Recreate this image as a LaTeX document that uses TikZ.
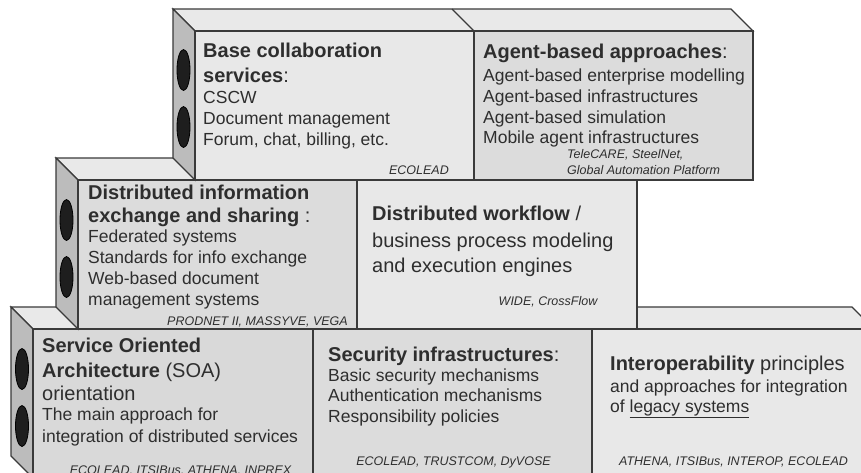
\documentclass[tikz,border=0pt]{standalone}
\usepackage{fontspec}
\setmainfont{Liberation Sans}
\definecolor{frontA}{HTML}{E8E8E8}
\definecolor{frontB}{HTML}{DCDCDC}
\definecolor{frontC}{HTML}{D9D9D9}
\definecolor{topc}{HTML}{E9E9E9}
\definecolor{sidec}{HTML}{BCBCBC}
\definecolor{edgec}{HTML}{3A3A3A}
\definecolor{holec}{HTML}{1E1E1E}
\definecolor{txtc}{HTML}{2E2E2E}
\newcommand\rsbig{\fontsize{20}{24}\selectfont}
\newcommand\rsmed{\fontsize{17.5}{21}\selectfont}
\newcommand\rssmall{\fontsize{12.5}{15}\selectfont\itshape}
\begin{document}
\begin{tikzpicture}[x=1pt,y=-1pt,
  face/.style={draw=edgec, line width=1.1pt, line join=miter},
  hole/.style={fill=holec, draw=black, line width=0.8pt},
  ln/.style={anchor=base west, inner sep=0pt, text=txtc, font=\rsmed},
  hl/.style={anchor=base west, inner sep=0pt, text=txtc, font=\rsbig},
  lab/.style={anchor=base, inner sep=0pt, text=txtc, font=\rssmall}]
\useasboundingbox (0,0) rectangle (861,472);
\clip (0,0) rectangle (861,472);
\fill[white] (0,0) rectangle (861,472);
% ---------- bottom row ----------
\draw[face, fill=topc] (11,307) -- (852,307) -- (874,329) -- (33,329) -- cycle;
\draw[face, fill=sidec] (11,307) -- (33,329) -- (33,478) -- (11,456) -- cycle;
\draw[face, fill=frontC] (33,329) rectangle (313,478);
\draw[face, fill=frontB] (313,329) rectangle (592,478);
\draw[face, fill=frontA] (592,329) rectangle (874,478);
\draw[hole] (22,369) ellipse [x radius=6.5, y radius=20.5];
\draw[hole] (22,426) ellipse [x radius=6.5, y radius=20.5];
% ---------- middle row ----------
\draw[face, fill=topc] (56,158) -- (615,158) -- (637,180) -- (78,180) -- cycle;
\draw[face, fill=sidec] (56,158) -- (78,180) -- (78,329) -- (56,307) -- cycle;
\draw[face, fill=frontB] (78,180) rectangle (357,329);
\draw[face, fill=frontA] (357,180) rectangle (637,329);
\draw[hole] (66.5,220) ellipse [x radius=6.5, y radius=20.5];
\draw[hole] (66.5,277) ellipse [x radius=6.5, y radius=20.5];
% ---------- top row ----------
\draw[face, fill=topc] (173,9) -- (731,9) -- (753,31) -- (195,31) -- cycle;
\draw[face] (452,9) -- (474,31);
\draw[face, fill=sidec] (173,9) -- (195,31) -- (195,180) -- (173,158) -- cycle;
\draw[face, fill=frontA] (195,31) rectangle (474,180);
\draw[face, fill=frontB] (474,31) rectangle (753,180);
\draw[hole] (183.5,70) ellipse [x radius=6.5, y radius=20.5];
\draw[hole] (183.5,127) ellipse [x radius=6.5, y radius=20.5];
% ---------- texts: base collaboration ----------
\node[hl] (a1) at (203,57) {\bfseries Base collaboration};
\node[hl] (a2) at (203,82) {\bfseries services\mdseries:};
\node[ln] (a3) at (203,103) {CSCW};
\node[ln] (a4) at (203,124) {Document management};
\node[ln] (a5) at (203,145) {Forum, chat, billing, etc.};
\node[lab, anchor=base east] (a6) at (449,174) {ECOLEAD};
% ---------- agent-based ----------
\node[hl] (b1) at (483,58) {\bfseries Agent-based approaches\mdseries:};
\node[ln] (b2) at (483,81) {Agent-based enterprise modelling};
\node[ln] (b3) at (483,102) {Agent-based infrastructures};
\node[ln] (b4) at (483,123) {Agent-based simulation};
\node[ln] (b5) at (483,143) {Mobile agent infrastructures};
\node[lab, anchor=base west] (b6) at (567,158) {TeleCARE, SteelNet,};
\node[lab, anchor=base west] (b7) at (567,174) {Global Automation Platform};
% ---------- distributed information ----------
\node[hl] (c1) at (88,199) {\bfseries Distributed information};
\node[hl] (c2) at (88,222) {\bfseries exchange and sharing \mdseries:};
\node[ln] (c3) at (88,242) {Federated systems};
\node[ln] (c4) at (88,263) {Standards for info exchange};
\node[ln] (c5) at (88,284) {Web-based document};
\node[ln] (c6) at (88,305) {management systems};
\node[lab, anchor=base east] (c7) at (348,325) {PRODNET II, MASSYVE, VEGA};
% ---------- distributed workflow ----------
\node[hl] (d1) at (372,220) {\bfseries Distributed workflow \mdseries/};
\node[hl] (d2) at (372,247) {business process modeling};
\node[hl] (d3) at (372,272) {and execution engines};
\node[lab] (d4) at (548,305) {WIDE, CrossFlow};
% ---------- SOA ----------
\node[hl] (e1) at (42,352) {\bfseries Service Oriented};
\node[hl] (e2) at (42,377) {\bfseries Architecture \mdseries(SOA)};
\node[hl] (e3) at (42,400) {orientation};
\node[ln] (e4) at (42,420) {The main approach for};
\node[ln] (e5) at (42,442) {integration of distributed services};
\node[lab] (e6) at (180.5,474) {ECOLEAD, ITSIBus, ATHENA, INPREX};
% ---------- security ----------
\node[hl] (f1) at (328,361) {\bfseries Security infrastructures\mdseries:};
\node[ln] (f2) at (328,381) {Basic security mechanisms};
\node[ln] (f3) at (328,401) {Authentication mechanisms};
\node[ln] (f4) at (328,422) {Responsibility policies};
\node[lab] (f5) at (453.5,465) {ECOLEAD, TRUSTCOM, DyVOSE};
% ---------- interoperability ----------
\node[hl] (g1) at (610,370) {\bfseries Interoperability \mdseries principles};
\node[ln] (g2) at (610,392) {and approaches for integration};
\node[ln] (g3) at (610,412) {of \underline{legacy systems}};
\node[lab] (g4) at (733.5,465) {ATHENA, ITSIBus, INTEROP, ECOLEAD};
\end{tikzpicture}
\end{document}
